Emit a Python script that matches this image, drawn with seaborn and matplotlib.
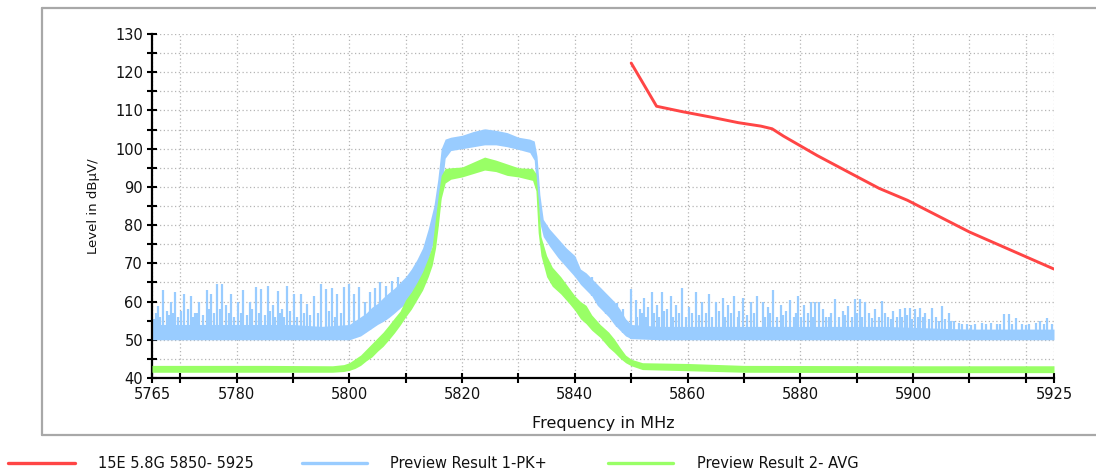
import numpy as np
import matplotlib
matplotlib.use("Agg")
import matplotlib.pyplot as plt
import seaborn as sns
from matplotlib.lines import Line2D

# ---------------- data ----------------
# Limit line "15E 5.8G 5850-5925"
limit_freq = [5850, 5854.5, 5859, 5864, 5869, 5873, 5875, 5877, 5879, 5883, 5889, 5894, 5899, 5910, 5925]
limit_level = [122.4, 111.1, 109.7, 108.3, 106.8, 105.9, 105.2, 103.3, 101.6, 98.2, 93.5, 89.6, 86.5, 78.2, 68.5]

# Preview Result 1 - PK+ : dense band (lower / upper edge)
pk_freq = [5765, 5770, 5775, 5780, 5785, 5790, 5795, 5800, 5801, 5802, 5803, 5804, 5805, 5806,
           5807, 5808, 5809, 5810, 5811, 5812, 5813, 5814, 5815, 5815.7, 5816.3, 5817, 5818,
           5820, 5822, 5824, 5826, 5828, 5830, 5832, 5832.8, 5833.3, 5833.8, 5834.4, 5835.5,
           5837, 5838.5, 5840, 5841, 5842, 5843, 5844, 5845, 5846, 5847, 5848, 5849, 5850,
           5855, 5865, 5875, 5885, 5895, 5905, 5910, 5918, 5925]
pk_lo = [50, 50, 50, 50, 50, 50, 50, 50, 50.5, 51, 52, 53, 54, 54.8,
         55.8, 57, 58.3, 59.5, 61.5, 64, 67, 71, 76, 81, 88, 97.5, 99.5,
         100, 100.5, 101, 101, 100.5, 99.8, 99, 97, 88, 80.5, 77, 74.5,
         71.5, 69, 66.5, 64.5, 63, 61.5, 59, 57.5, 56, 54, 52.5, 51, 50.3,
         50, 50, 50, 50, 50, 50, 50, 50, 50]
pk_hi = [54, 54, 54, 54, 54, 54, 53.5, 54, 55, 56, 57, 58.5, 59.5, 61,
         62.3, 63.5, 65, 66.5, 68.5, 71, 74, 79, 85, 92, 100, 102.5, 103,
         103.5, 104.5, 105.2, 104.8, 104.2, 103, 102.5, 102, 98, 88, 81.5, 79,
         76.5, 74, 72, 68.5, 67.5, 66, 64.5, 63, 61.5, 60, 58, 55.5, 54,
         53.5, 53.5, 53.5, 53.5, 53.5, 53, 52.8, 52.8, 52.8]

# PK+ tall spikes (frequency, peak level)
pk_spike_freq = [5765.3, 5766.0, 5767.0, 5767.6, 5768.4, 5769.1, 5770.7, 5771.3, 5771.9, 5772.6,
                 5773.4, 5774.7, 5775.5, 5776.6, 5777.5, 5778.2, 5779.0, 5780.2, 5781.2, 5782.3,
                 5783.4, 5784.3, 5785.6, 5786.4, 5787.3, 5788.1, 5788.9, 5790.2, 5791.4, 5792.5,
                 5793.8, 5795.0, 5795.8, 5797.0, 5797.9, 5799.1, 5800.0, 5800.9, 5801.8, 5802.8,
                 5803.6, 5804.5, 5805.5, 5806.5, 5807.5, 5808.7,
                 5843.0, 5845.5, 5847.5, 5848.5,
                 5850.0, 5850.8, 5851.5, 5852.3, 5853.0, 5853.7, 5854.6, 5855.5, 5856.3, 5857.0,
                 5858.0, 5859.1, 5860.2, 5861.5, 5862.6, 5863.8, 5865.0, 5866.2, 5867.1, 5868.3,
                 5869.8, 5871.2, 5872.4, 5873.3, 5874.2, 5875.1, 5876.6, 5877.4, 5878.1, 5879.6,
                 5880.7, 5881.9, 5882.6, 5883.4, 5884.0, 5885.0, 5886.1, 5887.6, 5888.5, 5889.7,
                 5890.6, 5891.5, 5892.7, 5893.3, 5894.5, 5895.0, 5896.5, 5897.7, 5898.6, 5899.5,
                 5900.4, 5901.3, 5902.2, 5903.4, 5905.1, 5906.3, 5907.2, 5908.1, 5909.6, 5911.0,
                 5912.3, 5913.8, 5914.9, 5916.1, 5917.0, 5918.2, 5919.4, 5920.6, 5921.8, 5922.6,
                 5923.8, 5924.7]
pk_spike_level = [55.5, 58.9, 63.0, 57.5, 60.0, 62.4, 62.0, 58.0, 61.5, 57.0,
                  59.8, 63.0, 62.0, 64.7, 64.6, 59.0, 62.0, 59.8, 63.0, 59.8,
                  63.7, 63.3, 64.1, 59.0, 62.8, 58.0, 64.1, 62.0, 62.0, 59.4,
                  61.5, 64.6, 63.3, 63.5, 62.0, 63.7, 64.7, 62.0, 63.7, 60.0,
                  62.5, 63.5, 65.0, 64.0, 65.5, 66.5,
                  66.5, 61.0, 59.5, 58.0,
                  63.3, 60.5, 58.0, 61.0, 58.5, 62.5, 59.0, 62.5, 58.0, 61.5,
                  59.0, 63.5, 58.5, 62.5, 60.0, 62.0, 60.0, 61.0, 59.0, 61.5,
                  61.0, 60.0, 61.5, 60.0, 58.5, 63.0, 59.0, 57.5, 60.5, 61.5,
                  59.0, 60.0, 59.8, 60.0, 58.0, 56.0, 60.6, 57.6, 58.9, 60.6,
                  60.6, 59.8, 55.8, 58.0, 60.2, 57.1, 57.6, 58.0, 58.4, 58.4,
                  58.0, 58.4, 57.1, 58.4, 58.9, 57.1, 55.0, 54.5, 54.1, 54.0,
                  54.5, 54.5, 54.1, 56.7, 56.7, 55.8, 54.1, 54.0, 54.5, 55.0,
                  55.8, 54.0]

# PK+ medium spikes between the tall ones
pk_mid_freq = [5765.7, 5766.5, 5768.0, 5768.8, 5769.7, 5770.2, 5772.2, 5773.0, 5774.1, 5775.1,
               5776.0, 5777.0, 5778.6, 5779.6, 5780.7, 5781.8, 5782.8, 5783.9, 5785.0, 5786.0,
               5786.9, 5787.7, 5788.5, 5789.5, 5790.8, 5791.9, 5793.1, 5794.4, 5796.4, 5797.5,
               5798.5,
               5851.1, 5851.9, 5852.7, 5854.1, 5855.0, 5855.9, 5857.5, 5858.5, 5859.7, 5860.8,
               5862.0, 5863.2, 5864.4, 5865.6, 5866.7, 5867.7, 5868.9, 5869.2, 5870.5, 5871.8,
               5873.8, 5874.7, 5875.8, 5877.0, 5878.8, 5879.2, 5880.2, 5881.3, 5882.2, 5884.5,
               5885.5, 5886.8, 5888.0, 5889.1, 5890.1, 5891.0, 5892.1, 5893.9, 5895.6, 5896.0,
               5897.2, 5898.1, 5899.0, 5899.9, 5900.9, 5901.8, 5902.8, 5904.0, 5904.6, 5905.6,
               5906.8, 5908.6, 5910.3, 5912.9, 5915.5, 5917.6, 5920.0, 5923.2]
pk_mid_level = [57, 56, 56.5, 57, 56, 57.5, 56, 57, 56.5, 58,
                57, 58, 57, 56, 57, 56.5, 58, 57, 56.5, 57.5,
                56, 57, 56, 57.5, 56, 57, 56.5, 57, 57.5, 56,
                57,
                56, 57, 56, 57, 56, 57.5, 56, 57, 56, 57,
                56.5, 57, 56, 57.5, 56, 57, 56, 57.5, 56.5, 57,
                56, 57, 56, 56.5, 56, 57, 56, 57, 56, 56,
                57, 56, 56.5, 56, 57, 56, 57, 56, 56, 55.5,
                56, 56, 56.5, 55.5, 56, 56, 55.5, 56, 55, 55.5,
                55, 54, 53.8, 54, 54, 54.2, 53.8, 54]

# Preview Result 2 - AVG : band (lower / upper edge)
avg_freq = [5765, 5775, 5785, 5797, 5799, 5800, 5801, 5802, 5803, 5804, 5805, 5806, 5807, 5808,
            5809, 5810, 5811, 5812, 5813, 5814, 5814.7, 5815.3, 5815.8, 5816.3, 5817, 5818,
            5820, 5822, 5824, 5826, 5828, 5830, 5832.5, 5833.1, 5833.5, 5834, 5835, 5836,
            5837.5, 5839, 5840, 5841, 5842, 5843, 5844.5, 5846, 5847, 5848, 5849, 5850,
            5852, 5860, 5870, 5900, 5925]
avg_lo = [41.5, 41.5, 41.5, 41.5, 41.7, 42, 42.5, 43.3, 44.5, 45.5, 47, 48.3, 50, 51.8,
          53.8, 56, 58, 60.5, 63, 66.5, 69.5, 74, 80, 87, 91, 92,
          92.6, 93.5, 94.4, 94, 93, 92.6, 91.7, 89, 78, 72, 66.5, 64,
          62, 59.5, 57.7, 55.5, 54.2, 52.5, 50.6, 48, 46.7, 45.2, 44, 43.2,
          42.2, 41.9, 41.5, 41.4, 41.4]
avg_hi = [43.3, 43.3, 43.3, 43.2, 43.5, 44, 45, 46, 47.5, 49, 50.5, 52, 53.8, 55.7,
          57.5, 60.5, 62.5, 65, 67.8, 71.5, 74.5, 82, 88, 93, 94.8, 95,
          95.2, 96.5, 97.8, 97, 96, 95, 94.8, 93.5, 87, 77, 72, 69,
          66.5, 63.5, 61.5, 60, 59, 56.5, 54, 52, 50.2, 48, 46, 44.9,
          44, 43.8, 43.3, 43.2, 43.2]

# Axis ticks / labels
x_tick_pos = [5765, 5770, 5780, 5790, 5800, 5810, 5820, 5830, 5840, 5850, 5860, 5870, 5880,
              5890, 5900, 5910, 5920, 5925]
x_tick_lab = ["5765", "", "5780", "", "5800", "", "5820", "", "5840", "", "5860", "", "5880",
              "", "5900", "", "", "5925"]
y_tick_pos = list(range(40, 131, 5))
y_tick_lab = [str(v) if v % 10 == 0 else "" for v in y_tick_pos]

legend_labels = ["15E 5.8G 5850- 5925", "Preview Result 1-PK+", "Preview Result 2- AVG"]

# ---------------- style ----------------
RED = "#FF4545"
BLUE = "#99CCFF"
GREEN = "#99FF66"

sns.set_theme(style="white")
plt.rcParams["font.family"] = ["DejaVu Sans"]

W, H = 1096, 475
fig = plt.figure(figsize=(W / 100, H / 100), dpi=100)
fig.patch.set_facecolor("white")
ax = fig.add_axes([152 / W, 1 - 378 / H, (1054 - 152) / W, (378 - 34) / H])

# PK+ trace: band + spikes rising from the band floor
ax.fill_between(pk_freq, pk_lo, pk_hi, color=BLUE, lw=0, zorder=2)
ax.vlines(pk_spike_freq, np.interp(pk_spike_freq, pk_freq, pk_lo), pk_spike_level,
          color=BLUE, lw=1.6, zorder=2)
ax.vlines(pk_mid_freq, np.interp(pk_mid_freq, pk_freq, pk_lo), pk_mid_level,
          color=BLUE, lw=1.6, zorder=2)
# AVG trace
ax.fill_between(avg_freq, avg_lo, avg_hi, color=GREEN, lw=0, zorder=3)
# Limit line
sns.lineplot(x=limit_freq, y=limit_level, ax=ax, color=RED, lw=2.1, zorder=4,
             estimator=None, sort=False)

ax.set_xlim(5765, 5925)
ax.set_ylim(40, 130)
ax.set_xticks(x_tick_pos)
ax.set_xticklabels(x_tick_lab)
ax.set_yticks(y_tick_pos)
ax.set_yticklabels(y_tick_lab)

ax.grid(True, color="#B5B5B5", linestyle=(0, (1, 2)), lw=0.9)
ax.set_axisbelow(True)
for s in ["top", "right"]:
    ax.spines[s].set_visible(False)
for s in ["left", "bottom"]:
    ax.spines[s].set_color("black")
    ax.spines[s].set_linewidth(1.6)
ax.tick_params(axis="both", which="both", bottom=True, left=True, direction="inout",
               length=7, width=1.5, color="black", labelsize=10.5, pad=3,
               labelcolor="#111111")

ax.set_xlabel("Frequency in MHz", fontsize=11.5, labelpad=10, color="#111111")
ax.set_ylabel("Level in dBµV/", fontsize=9.5, labelpad=11, color="#111111")

# Outer frame
frame_c = "#A8A8A8"
fig.add_artist(Line2D([42 / W, 1.0], [1 - 7.5 / H, 1 - 7.5 / H], color=frame_c, lw=1.6))
fig.add_artist(Line2D([42 / W, 42 / W], [1 - 7.5 / H, 1 - 435 / H], color=frame_c, lw=1.6))
fig.add_artist(Line2D([42 / W, 1.0], [1 - 435 / H, 1 - 435 / H], color=frame_c, lw=1.6))

# Legend (below the frame)
ly = 1 - 463 / H
legend_items = [(8, 75, 98, RED), (302, 367, 390, BLUE), (608, 673, 697, GREEN)]
for (x0, x1, xt, c), lab in zip(legend_items, legend_labels):
    fig.add_artist(Line2D([x0 / W, x1 / W], [ly, ly], color=c, lw=2.4))
    fig.text(xt / W, ly, lab, fontsize=10.5, va="center", ha="left", color="#111111")

fig.savefig("out.png", dpi=100, facecolor="white")
